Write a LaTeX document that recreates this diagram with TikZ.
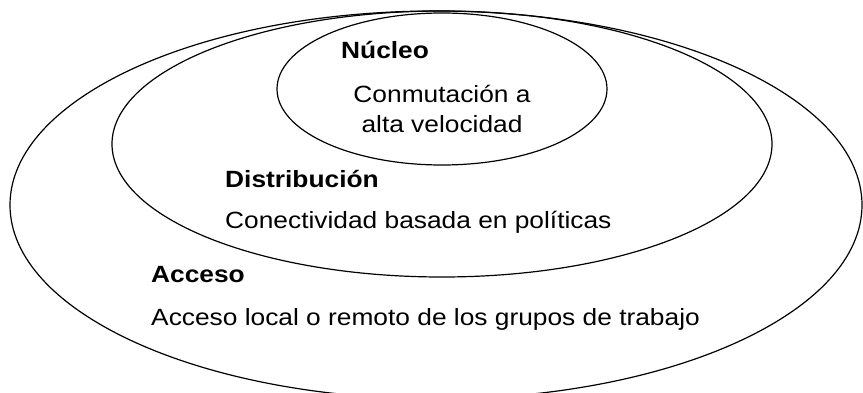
\documentclass[tikz,border=0pt]{standalone}
\usepackage{fontspec}
\setmainfont{Liberation Sans}[FakeStretch=1.12]
\usetikzlibrary{shapes.geometric}
\newcommand{\layerfont}{\fontsize{23.5}{30}\selectfont}
\tikzset{
  ring/.style={draw, ellipse, line width=1.2pt, inner sep=0pt},
  title/.style={font=\layerfont\bfseries, anchor=west, inner sep=0pt},
  body/.style={font=\layerfont, anchor=west, inner sep=0pt}
}
\begin{document}
\begin{tikzpicture}[x=1pt, y=-1pt]
\useasboundingbox (0,0) rectangle (863,393);
\clip (0,0) rectangle (863,393);
% nested layers
\node[ring, minimum width=852pt, minimum height=388pt] (acceso) at (436,205) {};
\node[ring, minimum width=660pt, minimum height=266pt] (distrib) at (442,144) {};
\node[ring, minimum width=330pt, minimum height=152pt] (nucleo) at (442,89) {};
% texts
\node[title] (tnucleo) at (341,50) {Núcleo};
\node[font=\layerfont, align=center, inner sep=0pt] (dnucleo) at (442,109) {Conmutación a\\alta velocidad};
\node[title] (tdistrib) at (225,179) {Distribución};
\node[body] (ddistrib) at (225,222) {Conectividad basada en políticas};
\node[title] (tacceso) at (151,275) {Acceso};
\node[body] (dacceso) at (151,319) {Acceso local o remoto de los grupos de trabajo};
\end{tikzpicture}
\end{document}
